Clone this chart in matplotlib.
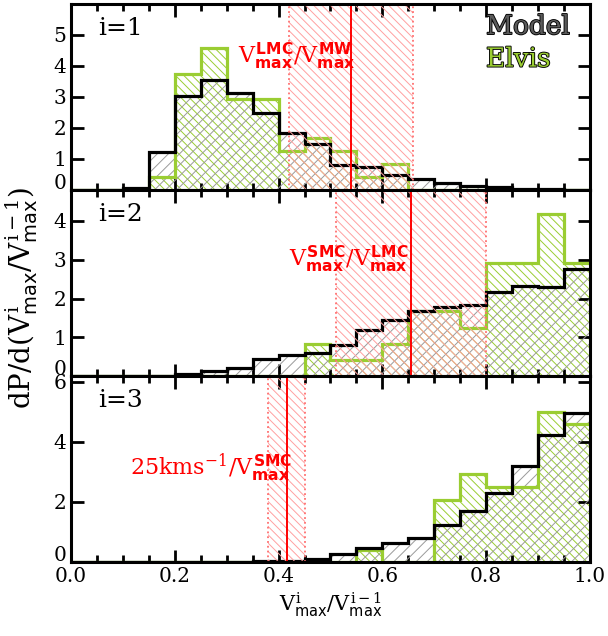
import numpy as np
import matplotlib
matplotlib.use('Agg')
import matplotlib.pyplot as plt
import matplotlib.patheffects as pe
import matplotlib.transforms as mtransforms
from matplotlib.ticker import MultipleLocator, FormatStrFormatter

# bins of 0.05 in V_max ratio
edges = np.linspace(0.0, 1.0, 21)

model_1 = [0, 0, 0.05, 1.21, 3.04, 3.53, 3.14, 2.47, 1.83, 1.47,
           0.82, 0.74, 0.47, 0.35, 0.21, 0.13, 0.08, 0.04, 0.02, 0.01]
elvis_1 = [0, 0, 0, 0.42, 3.75, 4.58, 2.92, 2.92, 1.25, 1.67,
           1.25, 0.42, 0.83, 0, 0, 0, 0, 0, 0, 0]

model_2 = [0, 0, 0, 0, 0.05, 0.14, 0.22, 0.45, 0.55, 0.60,
           0.79, 1.19, 1.44, 1.68, 1.78, 1.83, 2.18, 2.32, 2.29, 2.75]
elvis_2 = [0, 0, 0, 0, 0, 0, 0, 0, 0, 0.83,
           0.42, 0.42, 0.83, 1.67, 1.67, 1.25, 2.92, 2.92, 4.17, 2.92]

model_3 = [0, 0, 0, 0, 0, 0, 0, 0.03, 0.05, 0.10,
           0.27, 0.46, 0.63, 0.79, 1.23, 1.70, 2.31, 3.18, 4.23, 4.96]
elvis_3 = [0, 0, 0, 0, 0, 0, 0, 0, 0, 0,
           0, 0.42, 0, 0, 2.08, 2.92, 2.50, 2.50, 5.00, 4.58]

band_lo = [0.42, 0.51, 0.38]
band_mid = [0.54, 0.655, 0.417]
band_hi = [0.66, 0.80, 0.45]

ytop = [6.0, 4.8, 6.18]
yticks = [[0, 1, 2, 3, 4, 5], [0, 1, 2, 3, 4], [0, 2, 4, 6]]
panel_names = ['i=1', 'i=2', 'i=3']
band_labels = [r'$V^{\mathbf{LMC}}_{\mathbf{max}}/V^{\mathbf{MW}}_{\mathbf{max}}$',
               r'$V^{\mathbf{SMC}}_{\mathbf{max}}/V^{\mathbf{LMC}}_{\mathbf{max}}$',
               r'$25\mathrm{kms}^{-1}/V^{\mathbf{SMC}}_{\mathbf{max}}$']
label_pos = [(0.434, 4.3), (0.536, 3.0), (0.27, 3.15)]

models = [model_1, model_2, model_3]
elvis = [elvis_1, elvis_2, elvis_3]

plt.rcParams['font.family'] = 'DejaVu Serif'
plt.rcParams['mathtext.fontset'] = 'custom'
plt.rcParams['mathtext.rm'] = 'DejaVu Serif'
plt.rcParams['mathtext.it'] = 'DejaVu Serif'
plt.rcParams['mathtext.bf'] = 'DejaVu Sans:bold'
plt.rcParams['mathtext.sf'] = 'DejaVu Sans'
plt.rcParams['hatch.linewidth'] = 0.7

green = '#9acd32'

fig, axes = plt.subplots(3, 1, figsize=(6.08, 6.36), dpi=100, sharex=True)
fig.subplots_adjust(left=0.117, right=0.970, top=0.994, bottom=0.116, hspace=0)

for k, ax in enumerate(axes):
    # hatched fills
    ax.stairs(elvis[k], edges, baseline=0, fill=True, facecolor='none',
              edgecolor=green, hatch=r'\\\\', linewidth=0, zorder=1)
    ax.stairs(models[k], edges, baseline=0, fill=True, facecolor='none',
              edgecolor='#9a9a9a', hatch='///', linewidth=0, zorder=2)
    # outlines
    ax.stairs(elvis[k], edges, baseline=None, color=green, linewidth=2.3, zorder=3)
    ax.stairs(models[k], edges, baseline=None, color='black', linewidth=2.3, zorder=4)

    # observed range band
    ax.axvspan(band_lo[k], band_hi[k], facecolor='none', edgecolor='#ffa0a0',
               hatch=r'\\\\', linewidth=0, zorder=5)
    ax.axvline(band_lo[k], color='#ff7070', ls=':', lw=1.3, zorder=6)
    ax.axvline(band_hi[k], color='#ff7070', ls=':', lw=1.3, zorder=6)
    ax.axvline(band_mid[k], color='red', lw=1.4, zorder=6)

    ax.text(label_pos[k][0], label_pos[k][1], band_labels[k], color='red',
            fontsize=16, ha='center', va='center', zorder=7)
    ax.text(0.052, 0.93, panel_names[k], transform=ax.transAxes,
            fontsize=18, ha='left', va='top')

    ax.set_xlim(0, 1)
    ax.set_ylim(0, ytop[k])
    ax.xaxis.set_major_locator(MultipleLocator(0.2))
    ax.xaxis.set_minor_locator(MultipleLocator(0.05))
    ax.set_yticks(yticks[k])
    ax.tick_params(which='both', direction='in', top=True, right=True,
                   width=2, labelsize=14.5)
    ax.tick_params(which='major', length=9)
    ax.tick_params(which='minor', length=5)
    for sp in ax.spines.values():
        sp.set_linewidth(2.2)
        sp.set_zorder(10)

    # the 0 label sits a bit above the axis, as in the original
    lab = ax.yaxis.get_major_ticks()[0].label1
    lab.set_transform(lab.get_transform() +
                      mtransforms.ScaledTranslation(0, 6 / 72, fig.dpi_scale_trans))

axes[2].xaxis.set_major_formatter(FormatStrFormatter('%.1f'))

stroke = [pe.Stroke(linewidth=1.3, foreground='black'), pe.Normal()]
axes[0].text(0.80, 0.945, 'Model', transform=axes[0].transAxes, color='#5a5a5a',
             fontsize=19, ha='left', va='top', path_effects=stroke)
axes[0].text(0.80, 0.77, 'Elvis', transform=axes[0].transAxes, color=green,
             fontsize=19, ha='left', va='top', path_effects=stroke)

axes[2].set_xlabel(r'$V^{i}_{\mathsf{max}}/V^{i-1}_{\mathsf{max}}$', fontsize=15, labelpad=3)
fig.text(0.035, 0.532, r'$dP/d(V^{i}_{\mathsf{max}}/V^{i-1}_{\mathsf{max}})$',
         rotation=90, ha='center', va='center', fontsize=20)

fig.savefig('out.png', dpi=100)
